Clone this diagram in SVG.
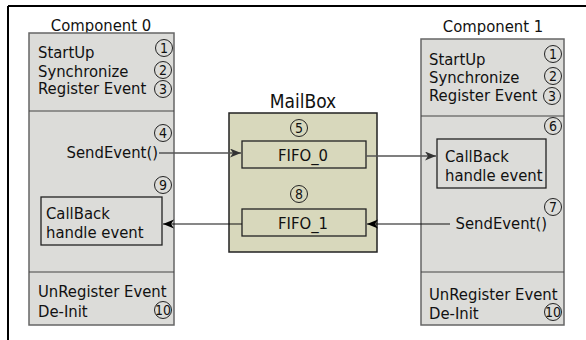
<svg xmlns="http://www.w3.org/2000/svg" width="586" height="340" viewBox="0 0 586 340">
<style>
.t{font-family:'DejaVu Sans Condensed','DejaVu Sans',sans-serif;font-size:16.5px;fill:#111}
.n{font-family:'DejaVu Sans Condensed','DejaVu Sans',sans-serif;font-size:14px;fill:#111;text-anchor:middle}
.c{fill:none;stroke:#222;stroke-width:1}
.comp{fill:#dcdcd9;stroke:#666;stroke-width:1.5}
.sep{stroke:#444;stroke-width:1.2}
.box{fill:none;stroke:#222;stroke-width:1.3}
.mb{fill:#d8d8bc;stroke:#222;stroke-width:1.5}
.fifo{fill:#d8d8bc;stroke:#222;stroke-width:1.3}
.mid{text-anchor:middle}
</style>
<defs>
<marker id="ag" markerWidth="12" markerHeight="10" refX="11" refY="4.5" orient="auto" markerUnits="userSpaceOnUse">
<path d="M0,0 L11,4.5 L0,9 L3,4.5 z" fill="#333"/>
</marker>
<marker id="ab" markerWidth="12" markerHeight="10" refX="11" refY="4.5" orient="auto" markerUnits="userSpaceOnUse">
<path d="M0,0 L11,4.5 L0,9 L3,4.5 z" fill="#000"/>
</marker>
</defs>
<rect width="586" height="340" fill="#fff"/>
<g id="frame">
<line x1="8" y1="6" x2="586" y2="6" stroke="#000" stroke-width="2"/>
<line x1="8" y1="6" x2="8" y2="340" stroke="#000" stroke-width="2"/>
</g>
<g id="component0">
<text class="t mid" x="101" y="31">Component 0</text>
<rect class="comp" x="29" y="33" width="145" height="292"/>
<line class="sep" x1="29" y1="111" x2="174" y2="111"/>
<line class="sep" x1="29" y1="272" x2="174" y2="272"/>
<text class="t" x="38" y="58">StartUp</text>
<text class="t" x="38" y="76.5">Synchronize</text>
<text class="t" x="38" y="94">Register Event</text>
<circle class="c" cx="164" cy="48" r="8.5"/><text class="n" x="164" y="53">1</text>
<circle class="c" cx="163" cy="70" r="8.5"/><text class="n" x="163" y="75">2</text>
<circle class="c" cx="163" cy="89" r="8.5"/><text class="n" x="163" y="94">3</text>
<circle class="c" cx="163" cy="133" r="8.5"/><text class="n" x="163" y="138">4</text>
<text class="t" x="158" y="158" text-anchor="end">SendEvent()</text>
<circle class="c" cx="163" cy="185" r="8.5"/><text class="n" x="163" y="190">9</text>
<rect class="box" x="41" y="197" width="121" height="48"/>
<text class="t" x="46" y="219">CallBack</text>
<text class="t" x="46" y="238">handle event</text>
<text class="t" x="38" y="297">UnRegister Event</text>
<text class="t" x="38" y="317">De-Init</text>
<circle class="c" cx="163" cy="310" r="8.5"/><text class="n" x="163" y="315">10</text>
</g>
<g id="mailbox">
<text class="t mid" x="303" y="108" style="font-size:19px">MailBox</text>
<rect class="mb" x="229" y="113" width="148" height="139"/>
<circle class="c" cx="299" cy="128" r="8.5"/><text class="n" x="299" y="133">5</text>
<circle class="c" cx="299" cy="194" r="8.5"/><text class="n" x="299" y="199">8</text>
</g>
<g id="fifo0">
<rect class="fifo" x="242" y="141" width="124" height="27"/>
<text class="t mid" x="303" y="161">FIFO_0</text>
</g>
<g id="fifo1">
<rect class="fifo" x="242" y="209" width="124" height="27"/>
<text class="t mid" x="303" y="228.5">FIFO_1</text>
</g>
<g id="component1">
<text class="t mid" x="493" y="32">Component 1</text>
<rect class="comp" x="421" y="39" width="143" height="286"/>
<line class="sep" x1="421" y1="116" x2="564" y2="116"/>
<line class="sep" x1="421" y1="272" x2="564" y2="272"/>
<text class="t" x="429" y="65">StartUp</text>
<text class="t" x="429" y="83">Synchronize</text>
<text class="t" x="429" y="101">Register Event</text>
<circle class="c" cx="553" cy="54" r="8.5"/><text class="n" x="553" y="59">1</text>
<circle class="c" cx="553" cy="76" r="8.5"/><text class="n" x="553" y="81">2</text>
<circle class="c" cx="552" cy="96" r="8.5"/><text class="n" x="552" y="101">3</text>
<circle class="c" cx="553" cy="126" r="8.5"/><text class="n" x="553" y="131">6</text>
<rect class="box" x="437" y="139" width="109" height="49"/>
<text class="t" x="445" y="162">CallBack</text>
<text class="t" x="445" y="181">handle event</text>
<circle class="c" cx="553" cy="207" r="8.5"/><text class="n" x="553" y="212">7</text>
<text class="t" x="547" y="229" text-anchor="end">SendEvent()</text>
<text class="t" x="429" y="300">UnRegister Event</text>
<text class="t" x="429" y="319">De-Init</text>
<circle class="c" cx="553" cy="312" r="8.5"/><text class="n" x="553" y="317">10</text>
</g>
<g id="connectors">
<line x1="159" y1="153" x2="241" y2="153" stroke="#555" stroke-width="1.5" marker-end="url(#ag)"/>
<line x1="366" y1="156" x2="436" y2="156" stroke="#555" stroke-width="1.5" marker-end="url(#ag)"/>
<line x1="450" y1="224" x2="367" y2="224" stroke="#111" stroke-width="1.2" marker-end="url(#ab)"/>
<line x1="242" y1="224" x2="163" y2="224" stroke="#111" stroke-width="1.2" marker-end="url(#ab)"/>
</g>
</svg>
